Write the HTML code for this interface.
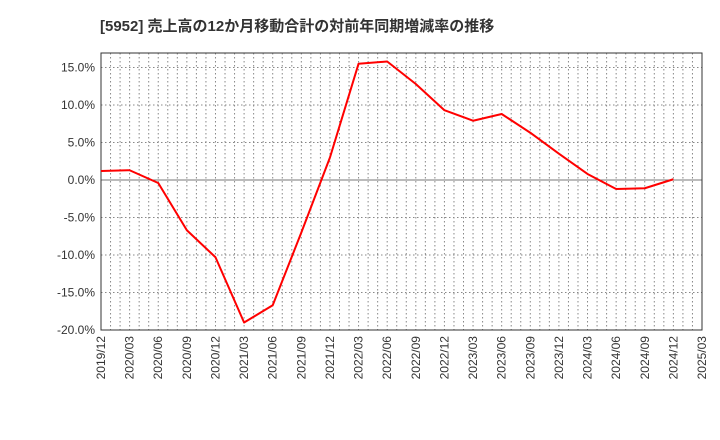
<!DOCTYPE html>
<html><head><meta charset="utf-8"><style>
body{margin:0;background:#fff;}
svg{display:block;font-family:"Liberation Sans","Noto Sans CJK JP",sans-serif;}
</style></head><body>
<svg id="chart" width="720" height="440">
<text x="100" y="31" font-size="15" font-weight="bold" fill="#333">[5952]  売上高の12か月移動合計の対前年同期増減率の推移</text>
<g id="grid"></g><g id="axes"></g><g id="series"></g>
</svg>
<script>
const xLabels=["2019/12","2020/03","2020/06","2020/09","2020/12","2021/03","2021/06","2021/09","2021/12","2022/03","2022/06","2022/09","2022/12","2023/03","2023/06","2023/09","2023/12","2024/03","2024/06","2024/09","2024/12","2025/03"];
const values=[1.2,1.3,-0.4,-6.7,-10.3,-19.0,-16.7,-7.0,3.0,15.5,15.8,12.8,9.3,7.9,8.8,6.3,3.5,0.8,-1.2,-1.1,0.1];
const yTicks=[-20,-15,-10,-5,0,5,10,15];
const L=101,R=702,T=53,B=330,yMin=-20,yMax=16.93;
const NS="http://www.w3.org/2000/svg";
const xs=i=>L+(R-L)*i/(xLabels.length-1);
const xm=m=>L+(R-L)*m/((xLabels.length-1)*3);
const ys=v=>B-(v-yMin)/(yMax-yMin)*(B-T);
function mk(t,a,p){const e=document.createElementNS(NS,t);for(const k in a)e.setAttribute(k,a[k]);p.appendChild(e);return e;}
const g=document.getElementById('grid'),ax=document.getElementById('axes'),s=document.getElementById('series');
for(let m=1;m<(xLabels.length-1)*3;m++){
 const l=mk('line',{x1:xm(m),x2:xm(m),y1:T,y2:B,stroke:'#888','stroke-dasharray':'1.5,2.5','stroke-width':1},g);
 
 
}
yTicks.forEach(v=>{
 const y=ys(v);
 const l=mk('line',{x1:L,x2:R,y1:y,y2:y,stroke:v===0?'#777':'#888','stroke-dasharray':v===0?'none':'1.5,2.5','stroke-width':1},g);
 
 
 const t=mk('text',{x:L-6,y:y+4,'text-anchor':'end','font-size':12,fill:'#333'},ax);
 t.textContent=v.toFixed(1)+'%';
 
 
});
xLabels.forEach((lb,i)=>{
 const x=xs(i);
 const t=mk('text',{x:x+4,y:B+6,'text-anchor':'end','font-size':12,fill:'#333',transform:`rotate(-90 ${x+4} ${B+6})`},ax);
 t.textContent=lb;
 
 
});
const fr=mk('rect',{x:L,y:T,width:R-L,height:B-T,fill:'none',stroke:'#333','stroke-width':1},ax);


const pl=mk('polyline',{points:values.map((v,i)=>xs(i)+','+ys(v)).join(' '),fill:'none',stroke:'#f00','stroke-width':2,'stroke-linejoin':'round'},s);


</script>
</body></html>
